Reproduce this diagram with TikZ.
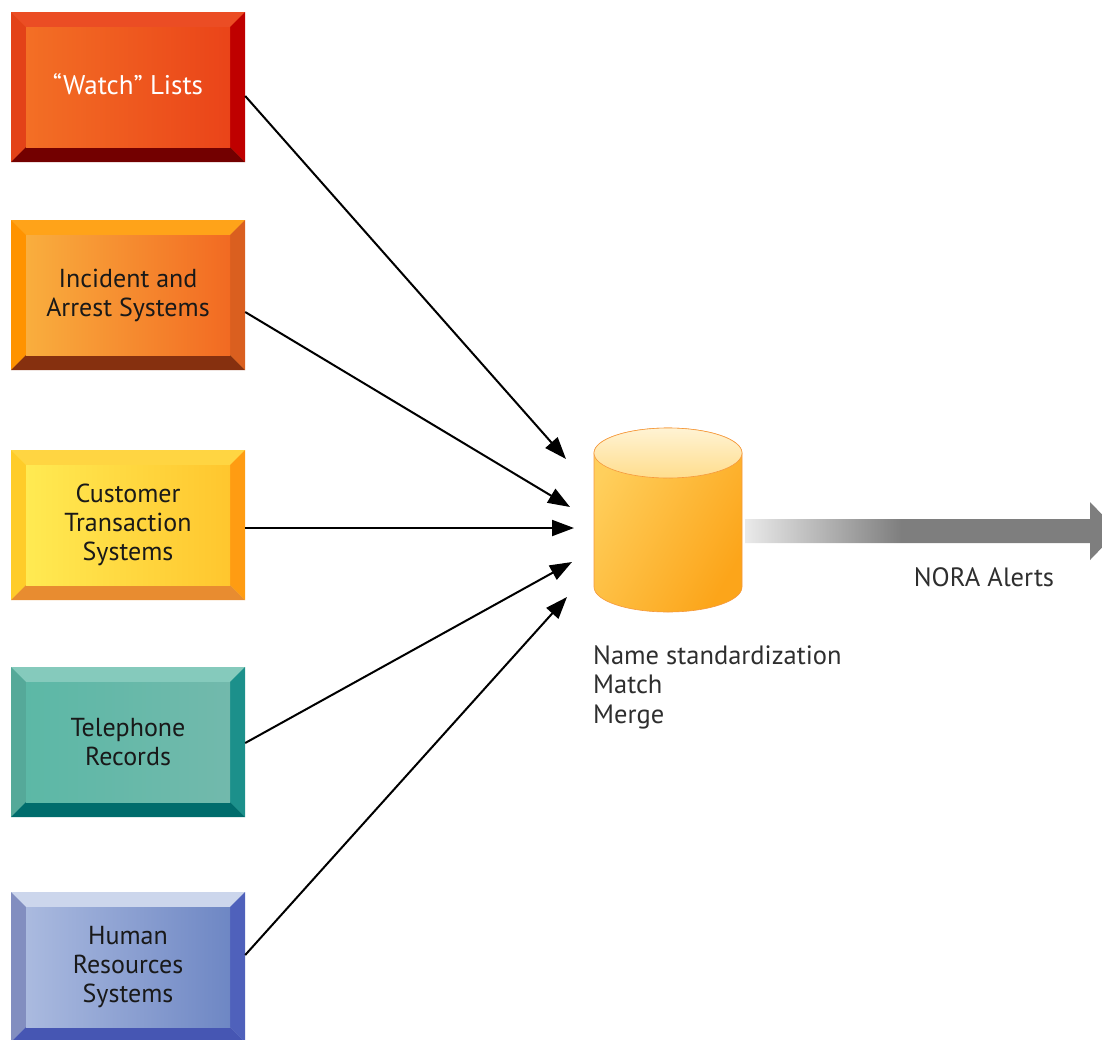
\documentclass[tikz,border=0pt]{standalone}
\usepackage{fontspec}
\setmainfont{PT Sans}
\usepackage{tikz}
\usetikzlibrary{arrows.meta,calc,positioning}
\definecolor{watchface}{HTML}{F36F25}
\definecolor{watchdeep}{HTML}{EA4419}
\definecolor{incidface}{HTML}{F9AE3E}
\definecolor{inciddeep}{HTML}{F26A22}
\definecolor{custface}{HTML}{FFEA52}
\definecolor{custdeep}{HTML}{FFC62E}
\definecolor{telface}{HTML}{5CB8A6}
\definecolor{teldeep}{HTML}{72B9AC}
\definecolor{humface}{HTML}{AABADF}
\definecolor{humdeep}{HTML}{6E87C4}
\definecolor{cylbody}{HTML}{FFCF5C}
\definecolor{cyldeep}{HTML}{FCA51A}
\definecolor{cyltop}{HTML}{FFF3D4}
\definecolor{alertlight}{HTML}{EAEAEA}
\definecolor{alertgray}{HTML}{7E7E7E}
\pgfdeclarehorizontalshading{alertfade}{100bp}{color(0bp)=(alertlight); color(25bp)=(alertlight); color(46bp)=(alertgray); color(100bp)=(alertgray)}
\tikzset{
  srcbox/.style n args={6}{
    minimum width=234pt,
    minimum height=150pt,
    inner sep=0pt,
    align=center,
    fill=#5,
    font=\fontsize{26}{29}\selectfont,
    text=black!90,
    path picture={
      \fill[#1] (path picture bounding box.north west) -- (path picture bounding box.north east)
        -- ([shift={(-15pt,-15pt)}]path picture bounding box.north east)
        -- ([shift={(15pt,-15pt)}]path picture bounding box.north west) -- cycle;
      \fill[#2] (path picture bounding box.north west) -- (path picture bounding box.south west)
        -- ([shift={(15pt,15pt)}]path picture bounding box.south west)
        -- ([shift={(15pt,-15pt)}]path picture bounding box.north west) -- cycle;
      \fill[#3] (path picture bounding box.north east) -- (path picture bounding box.south east)
        -- ([shift={(-15pt,15pt)}]path picture bounding box.south east)
        -- ([shift={(-15pt,-15pt)}]path picture bounding box.north east) -- cycle;
      \fill[#4] (path picture bounding box.south west) -- (path picture bounding box.south east)
        -- ([shift={(-15pt,15pt)}]path picture bounding box.south east)
        -- ([shift={(15pt,15pt)}]path picture bounding box.south west) -- cycle;
      \shade[left color=#5,right color=#6]
        ([shift={(15pt,-15pt)}]path picture bounding box.north west)
        rectangle ([shift={(-15pt,15pt)}]path picture bounding box.south east);
    }
  },
  feed/.style={
    -{Triangle[length=22pt,width=16pt]},
    line width=2pt,
    black
  },
  caption/.style={
    font=\fontsize{26.5}{29.5}\selectfont,
    text=black!82,
    inner sep=0pt
  }
}

\begin{document}
\begin{tikzpicture}[x=1pt,y=-1pt]
\useasboundingbox (0,0) rectangle (1102,1039);

% data sources
\node[srcbox={fill=watchdeep!95!white}{fill=watchdeep!97!black}{fill=red!75!black}{fill=red!45!black}{watchface}{watchdeep},
      text=white,font=\fontsize{27}{30}\selectfont] (watch) at (128,87) {\raisebox{7pt}{“Watch” Lists}};
\node[srcbox={fill=orange!80!yellow!90!white}{fill=orange!85!yellow}{fill=inciddeep!90!black}{fill=inciddeep!50!black!90!red}{incidface}{inciddeep}]
      (incident) at (128,295) {Incident and\\Arrest Systems};
\node[srcbox={fill=custface!80!orange}{fill=custdeep!90!yellow}{fill=orange!60!custdeep}{fill=orange!60!brown!90!white}{custface}{custdeep}]
      (customer) at (128,525) {Customer\\Transaction\\Systems};
\node[srcbox={fill=telface!75!white}{fill=telface!92!black}{fill=teal!70!telface}{fill=teal!85!black}{telface}{teldeep}]
      (phone) at (128,742) {Telephone\\Records};
\node[srcbox={fill=humface!60!white}{fill=humface!90!blue!85!black}{fill=humdeep!80!blue!90!black}{fill=humdeep!75!blue!85!black}{humface}{humdeep}]
      (hr) at (128,967) {Human\\Resources\\Systems};

% store
\shade[left color=cylbody,right color=cyldeep,shading angle=60,draw=orange!80!brown!80,line width=0.6pt]
  (594,453) -- (594,587) arc[start angle=180,end angle=360,x radius=74pt,y radius=25pt]
  -- (742,453) arc[start angle=0,end angle=180,x radius=74pt,y radius=25pt] -- cycle;
\shade[top color=cyltop,bottom color=cylbody!70!white,draw=orange!80!brown!80,line width=0.6pt]
  (668,453) ellipse[x radius=74pt,y radius=25pt];
\coordinate (store) at (668,520);

\coordinate (in1) at (566,459);
\coordinate (in2) at (570,507);
\coordinate (in3) at (574,528);
\coordinate (in4) at (572,562);
\coordinate (in5) at (567,597);

\draw[feed] ([yshift=-9pt]watch.east) -- (in1);
\draw[feed] ([yshift=-17pt]incident.east) -- (in2);
\draw[feed] ([yshift=-3pt]customer.east) -- (in3);
\draw[feed] ([yshift=-1pt]phone.east) -- (in4);
\draw[feed] ([yshift=12pt]hr.east) -- (in5);

% output
\shade[shading=alertfade]
  (745,519) -- (1090,519) -- (1090,502) -- (1118,531) -- (1090,560) -- (1090,543) -- (745,543) -- cycle;
\node[caption] (alerts) at (984,577) {NORA Alerts};
\node[caption,align=left,anchor=north west] (steps) at (593,645) {Name standardization\\Match\\Merge};
\end{tikzpicture}
\end{document}
